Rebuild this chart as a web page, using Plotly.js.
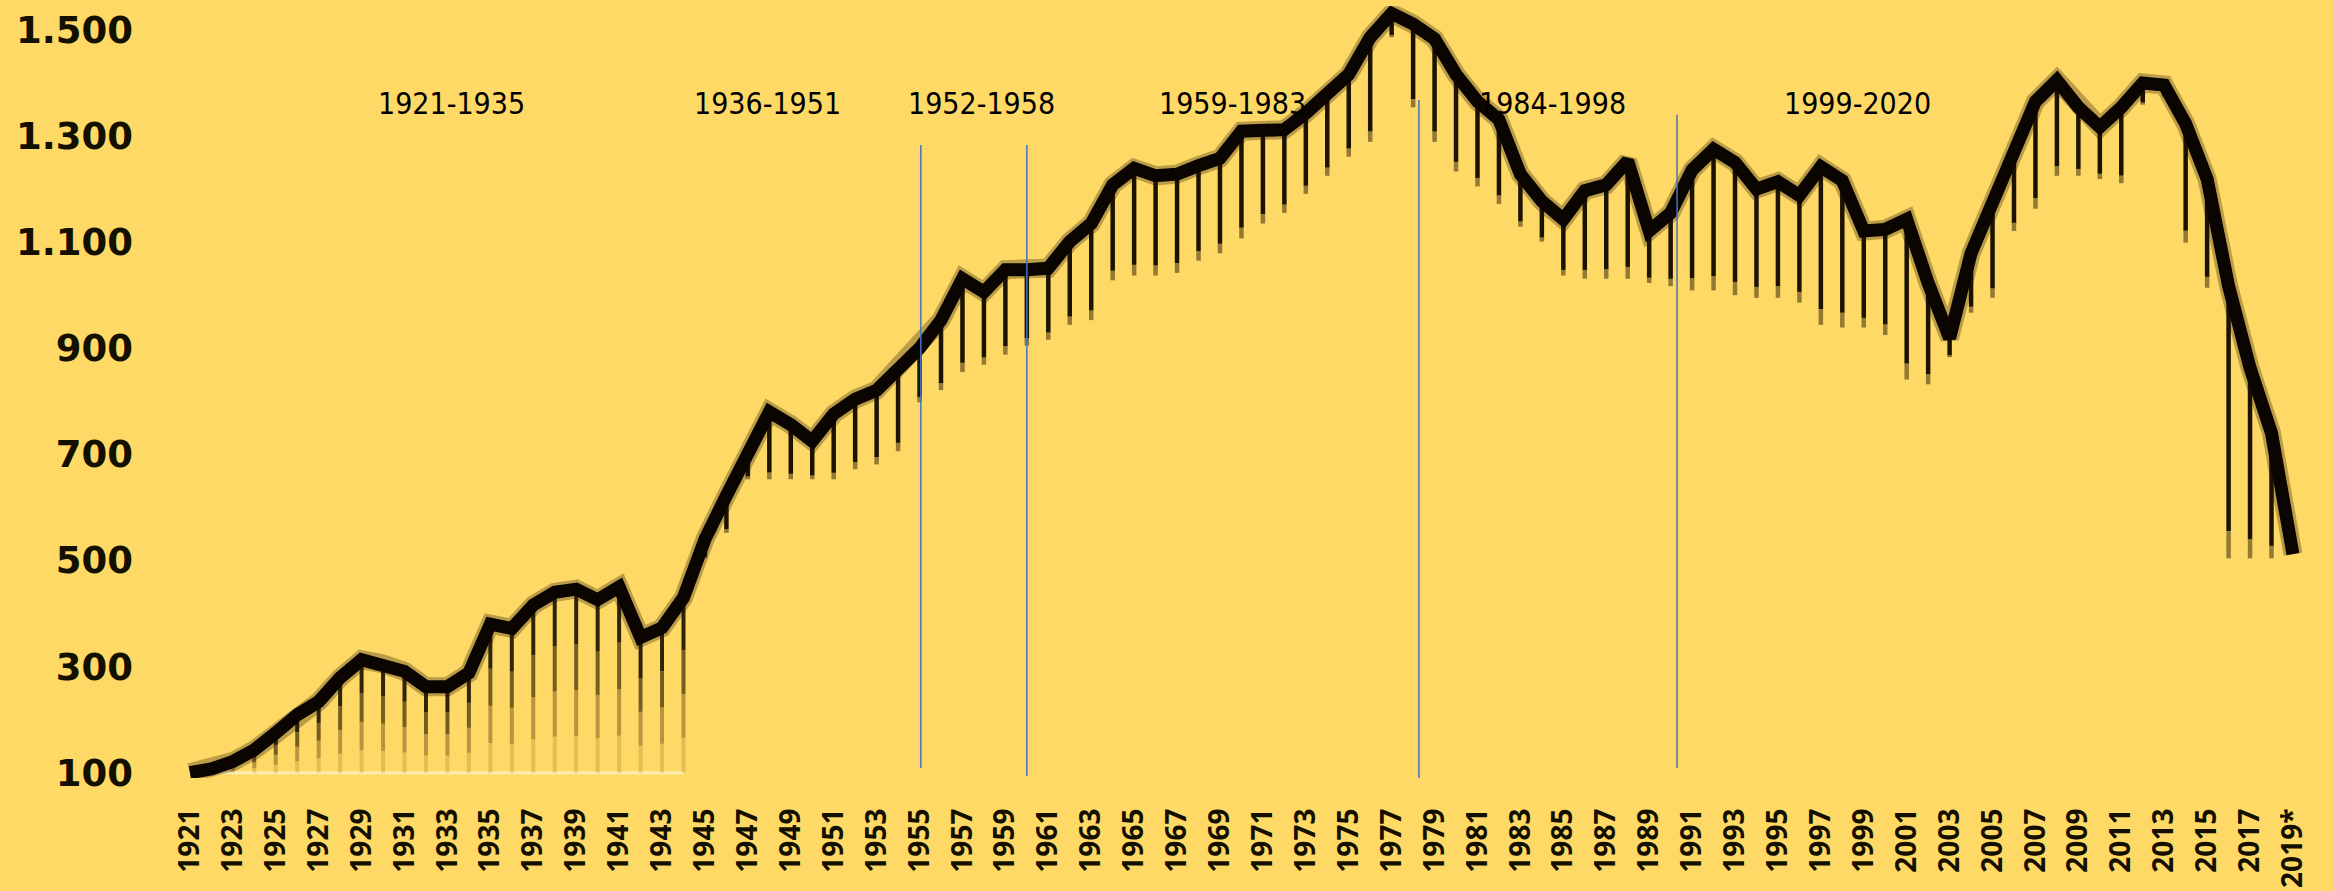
<!DOCTYPE html>
<html>
<head>
<meta charset="utf-8">
<script src="https://cdn.plot.ly/plotly-3.0.1.min.js"></script>
<style>
  html, body { margin: 0; padding: 0; background: #FFD966; }
  #chart { width: 2333px; height: 891px; }
</style>
</head>
<body>
<div id="chart"></div>
<script>
// ---- data ----
const years = [1921,1922,1923,1924,1925,1926,1927,1928,1929,1930,
  1931,1932,1933,1934,1935,1936,1937,1938,1939,1940,
  1941,1942,1943,1944,1945,1946,1947,1948,1949,1950,
  1951,1952,1953,1954,1955,1956,1957,1958,1959,1960,
  1961,1962,1963,1964,1965,1966,1967,1968,1969,1970,
  1971,1972,1973,1974,1975,1976,1977,1978,1979,1980,
  1981,1982,1983,1984,1985,1986,1987,1988,1989,1990,
  1991,1992,1993,1994,1995,1996,1997,1998,1999,2000,
  2001,2002,2003,2004,2005,2006,2007,2008,2009,2010,
  2011,2012,2013,2014,2015,2016,2017,2018,2019];

const values = [100,107,121,143,175,209,234,279,313,305,
  291,262,262,288,380,372,416,440,446,426,
  450,355,373,430,540,622,706,780,756,725,
  776,804,821,863,900,953,1031,1006,1048,1048,
  1051,1101,1135,1208,1239,1225,1228,1244,1258,1309,
  1312,1312,1343,1379,1416,1486,1531,1511,1483,1416,
  1365,1331,1228,1177,1143,1197,1208,1253,1121,1155,
  1236,1275,1250,1200,1214,1188,1242,1216,1121,1124,
  1143,1023,919,1079,1172,1275,1365,1405,1354,1317,
  1354,1400,1396,1323,1219,1017,863,740,512];

// lower end of each year's vertical drop line
const dropBottom = [100,100,100,100,100,100,100,100,100,100,
  100,100,100,100,100,100,100,100,100,100,
  100,100,100,100,504,552,653,653,653,653,
  653,672,681,706,798,821,855,869,888,905,
  916,944,953,1028,1037,1037,1042,1065,1079,1107,
  1135,1155,1191,1225,1261,1289,1486,1354,1289,1233,
  1205,1172,1129,1101,1037,1031,1031,1031,1023,1017,
  1009,1009,1000,995,995,986,944,939,939,925,
  841,832,883,967,995,1121,1163,1225,1225,1219,
  1211,1359,1374,1099,1014,504,504,504,512];

const periodLabels = ["1921-1935","1936-1951","1952-1958","1959-1983","1984-1998","1999-2020"];
const periodCenters = [1933.2, 1947.9, 1957.9, 1969.6, 1984.5, 1998.7];

const xTickVals = [1921,1923,1925,1927,1929,1931,1933,1935,1937,1939,1941,1943,1945,1947,1949,
  1951,1953,1955,1957,1959,1961,1963,1965,1967,1969,1971,1973,1975,1977,1979,1981,1983,1985,
  1987,1989,1991,1993,1995,1997,1999,2001,2003,2005,2007,2009,2011,2013,2015,2017,2019];
const xTickText = ["1921","1923","1925","1927","1929","1931","1933","1935","1937","1939","1941","1943","1945","1947","1949",
  "1951","1953","1955","1957","1959","1961","1963","1965","1967","1969","1971","1973","1975","1977","1979","1981","1983","1985",
  "1987","1989","1991","1993","1995","1997","1999","2001","2003","2005","2007","2009","2011","2013","2015","2017","2019*"];
const yTickVals = [100,300,500,700,900,1100,1300,1500];
const yTickText = ["100","300","500","700","900","1.100","1.300","1.500"];

// ---- build drop lines ----
const BASE = 100;
function seg(fracTop, fracBot, onlyBase) {
  const x = [], y = [];
  for (let i = 0; i < years.length; i++) {
    const isBase = dropBottom[i] === BASE;
    if (isBase !== onlyBase) continue;
    const v = values[i], b = dropBottom[i];
    if (v - b < 2) continue;
    x.push(years[i], years[i], null);
    y.push(v - (v - b) * fracTop, v - (v - b) * fracBot, null);
  }
  return {x, y};
}
const traces = [];
// fading drop lines down to the baseline (early years)
const fadeSteps = [[0,0.3,'rgba(25,15,0,0.9)'],[0.3,0.55,'rgba(45,28,0,0.65)'],[0.55,0.8,'rgba(70,48,0,0.4)'],[0.8,1,'rgba(100,72,0,0.18)']];
fadeSteps.forEach(s => {
  const d = seg(s[0], s[1], true);
  traces.push({type:'scatter', mode:'lines', x:d.x, y:d.y, hoverinfo:'skip', showlegend:false, cliponaxis:false,
    line:{color:s[2], width:4}});
});
// solid drop lines (later years)
const dMain = seg(0, 0.9, false);
traces.push({type:'scatter', mode:'lines', x:dMain.x, y:dMain.y, hoverinfo:'skip', showlegend:false, cliponaxis:false,
  line:{color:'#1c1200', width:4.5}});
const dTip = seg(0.9, 1, false);
traces.push({type:'scatter', mode:'lines', x:dTip.x, y:dTip.y, hoverinfo:'skip', showlegend:false, cliponaxis:false,
  line:{color:'rgba(40,25,0,0.5)', width:4.5}});
// soft halo + main line
traces.push({type:'scatter', mode:'lines', x:years, y:values, hoverinfo:'skip', showlegend:false, cliponaxis:false,
  line:{color:'rgba(30,15,0,0.3)', width:19}});
traces.push({type:'scatter', mode:'lines', x:years, y:values, showlegend:false, cliponaxis:false,
  line:{color:'#0a0500', width:13}});

const annFont = {family:'Liberation Sans Narrow, DejaVu Sans Condensed, Open Sans, sans-serif', size:30, color:'#000000'};
const annotations = periodLabels.map((t, i) => ({
  x: periodCenters[i], y: 1362, xref:'x', yref:'y', text: t, showarrow:false,
  font: annFont, xanchor:'center', yanchor:'middle'
}));

const blue = {color:'#4472C4', width:1.5};
const shapes = [
  {type:'line', xref:'x', yref:'y', x0:1955.06, x1:1955.06, y0:109, y1:1283, line:blue},
  {type:'line', xref:'x', yref:'y', x0:1960.0, x1:1960.0, y0:94, y1:1283, line:blue},
  {type:'line', xref:'x', yref:'y', x0:1978.27, x1:1978.27, y0:81, y1:1368, line:blue},
  {type:'line', xref:'x', yref:'y', x0:1990.3, x1:1990.3, y0:109, y1:1340, line:blue},
  {type:'line', xref:'x', yref:'y', x0:1922, x1:1944, y0:100, y1:100, layer:'below',
   line:{color:'#FCEDB0', width:3}}
];

const layout = {
  width: 2333, height: 891,
  paper_bgcolor: '#FFD966', plot_bgcolor: '#FFD966',
  margin: {l:150, r:13, t:6, b:113},
  showlegend: false,
  xaxis: {
    range: [1919.14, 2020.26], showgrid:false, zeroline:false, showline:false,
    tickmode:'array', tickvals:xTickVals, ticktext:xTickText, tickangle:-90,
    ticks:'', ticklabelstandoff: 24, ticklabeloverflow:'allow',
    tickfont:{family:'Open Sans, sans-serif', size:28, color:'#141000', weight:700}
  },
  yaxis: {
    range: [90, 1545], showgrid:false, zeroline:false, showline:false,
    tickmode:'array', tickvals:yTickVals, ticktext:yTickText,
    ticks:'', ticklabelstandoff: 16, ticklabeloverflow:'allow',
    tickfont:{family:'DejaVu Sans, sans-serif', size:37, color:'#141000', weight:700}
  },
  annotations: annotations,
  shapes: shapes
};

Plotly.newPlot('chart', traces, layout, {staticPlot:true, displayModeBar:false});
</script>
</body>
</html>
